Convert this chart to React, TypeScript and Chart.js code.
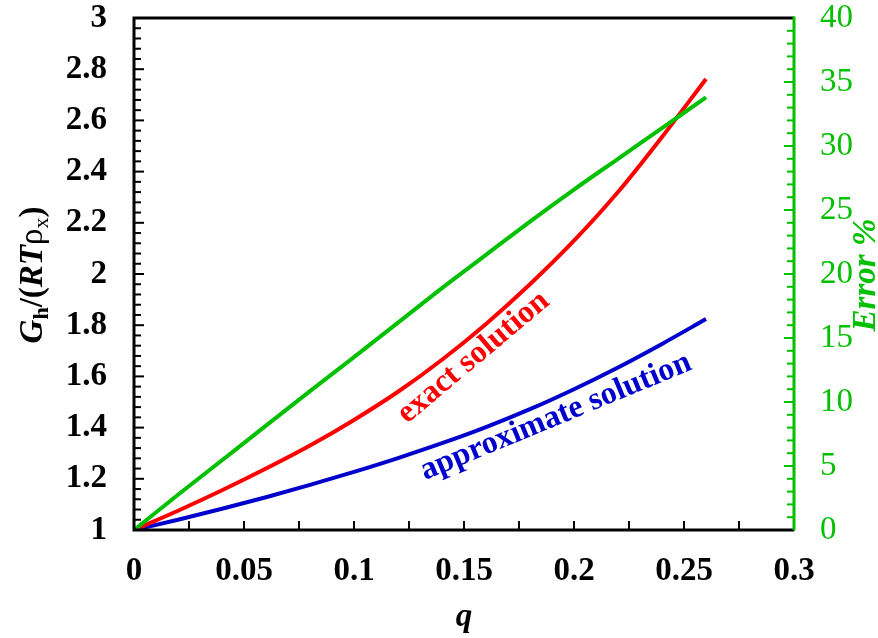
import React, { useEffect, useRef } from "react";
import { Chart, registerables } from "chart.js";

Chart.register(...registerables);

const qValues = [0, 0.02, 0.04, 0.06, 0.08, 0.1, 0.12, 0.14, 0.16, 0.18, 0.2, 0.22, 0.24, 0.26];
const exactSolution = [1, 1.075, 1.155, 1.24, 1.33, 1.43, 1.54, 1.665, 1.805, 1.96, 2.13, 2.32, 2.535, 2.762];
const approxSolution = [1, 1.04, 1.083, 1.128, 1.176, 1.227, 1.281, 1.339, 1.402, 1.472, 1.55, 1.635, 1.727, 1.824];
const errorPercent = [0, 2.75, 5.45, 8.15, 10.85, 13.5, 16.2, 18.9, 21.5, 24.1, 26.6, 29.0, 31.4, 33.8];

const RED = "#ff0000";
const BLUE = "#0000cc";
const GREEN = "#00c000";
const SERIF = "'Liberation Serif', 'Times New Roman', serif";

// annotation anchors in data units
const exactLabel = { q: 0.1241, v: 1.414, angle: -40, text: "exact solution" };
const approxLabel = { q: 0.1323, v: 1.195, angle: -22.5, text: "approximate solution" };

const fmt = (v: number) => String(Number(Number(v).toFixed(3)));

const framePlugin = {
  id: "frame",
  afterDraw(chart: any) {
    const { ctx, chartArea } = chart;
    const { left, right, top, bottom } = chartArea;
    const xs = chart.scales.x;
    const ys = chart.scales.y;
    const y2 = chart.scales.y2;
    ctx.save();
    ctx.lineCap = "square";
    // ticks
    ctx.lineWidth = 2;
    ctx.strokeStyle = "#000";
    for (let i = 0; i <= 12; i++) {
      const x = xs.getPixelForValue(i * 0.025);
      ctx.beginPath();
      ctx.moveTo(x, bottom);
      ctx.lineTo(x, bottom - 8);
      ctx.stroke();
    }
    for (let i = 0; i <= 50; i++) {
      const y = ys.getPixelForValue(1 + i * 0.04);
      const len = i % 5 === 0 ? 9 : 6;
      ctx.beginPath();
      ctx.moveTo(left, y);
      ctx.lineTo(left + len, y);
      ctx.stroke();
    }
    ctx.strokeStyle = GREEN;
    for (let i = 0; i <= 40; i++) {
      const y = y2.getPixelForValue(i);
      const len = i % 5 === 0 ? 9 : 6;
      ctx.beginPath();
      ctx.moveTo(right, y);
      ctx.lineTo(right - len, y);
      ctx.stroke();
    }
    // frame
    ctx.lineWidth = 3;
    ctx.lineCap = "butt";
    ctx.strokeStyle = "#000";
    ctx.beginPath();
    ctx.moveTo(right, top);
    ctx.lineTo(left, top);
    ctx.lineTo(left, bottom);
    ctx.lineTo(right, bottom);
    ctx.stroke();
    ctx.strokeStyle = GREEN;
    ctx.beginPath();
    ctx.moveTo(right, top - 1.5);
    ctx.lineTo(right, bottom);
    ctx.stroke();

    // in-plot labels
    const drawRot = (lab: any, color: string) => {
      const px = xs.getPixelForValue(lab.q);
      const py = ys.getPixelForValue(lab.v);
      ctx.save();
      ctx.translate(px, py);
      ctx.rotate((lab.angle * Math.PI) / 180);
      ctx.fillStyle = color;
      ctx.font = `bold 32px ${SERIF}`;
      ctx.textAlign = "left";
      ctx.textBaseline = "alphabetic";
      ctx.fillText(lab.text, 0, 0);
      ctx.restore();
    };
    drawRot(exactLabel, RED);
    drawRot(approxLabel, BLUE);

    // axis titles
    const drawRuns = (runs: any[], cx: number, cy: number, rot: number, color: string) => {
      ctx.save();
      ctx.translate(cx, cy);
      ctx.rotate(rot);
      ctx.fillStyle = color;
      ctx.textBaseline = "alphabetic";
      ctx.textAlign = "left";
      let total = 0;
      for (const r of runs) {
        ctx.font = r.font;
        total += ctx.measureText(r.t).width;
      }
      let x = -total / 2;
      for (const r of runs) {
        ctx.font = r.font;
        ctx.fillText(r.t, x, r.dy || 0);
        x += ctx.measureText(r.t).width;
      }
      ctx.restore();
    };
    drawRuns(
      [
        { t: "G", font: `italic bold 33px ${SERIF}` },
        { t: "h", font: `bold 22px ${SERIF}`, dy: 6 },
        { t: "/(", font: `bold 33px ${SERIF}` },
        { t: "RT", font: `italic bold 33px ${SERIF}` },
        { t: "ρ", font: `33px ${SERIF}` },
        { t: "x", font: `22px ${SERIF}`, dy: 6 },
        { t: ")", font: `bold 33px ${SERIF}` },
      ],
      42,
      275,
      -Math.PI / 2,
      "#000"
    );
    drawRuns([{ t: "Error %", font: `italic bold 33px ${SERIF}` }], 875, 275, -Math.PI / 2, GREEN);
    drawRuns([{ t: "q", font: `italic bold 33px ${SERIF}` }], (left + right) / 2, 626, 0, "#000");
    ctx.restore();
  },
};

export default function App() {
  const ref = useRef<HTMLCanvasElement | null>(null);
  useEffect(() => {
    if (!ref.current) return;
    const mk = (vals: number[]) => qValues.map((q, i) => ({ x: q, y: vals[i] }));
    const common = { borderWidth: 4, pointRadius: 0, cubicInterpolationMode: "monotone" };
    const chart = new Chart(ref.current, {
      type: "line",
      data: {
        datasets: [
          { label: "Error", data: mk(errorPercent), borderColor: GREEN, yAxisID: "y2", ...common },
          { label: "exact solution", data: mk(exactSolution), borderColor: RED, yAxisID: "y", ...common },
          { label: "approximate solution", data: mk(approxSolution), borderColor: BLUE, yAxisID: "y", ...common },
        ],
      },
      options: {
        responsive: false,
        animation: false,
        layout: { padding: { top: 18, left: 0, right: 0, bottom: 0 } },
        plugins: { legend: { display: false }, tooltip: { enabled: false } },
        scales: {
          x: {
            type: "linear",
            min: 0,
            max: 0.3,
            grid: { display: false, drawTicks: false },
            border: { display: false },
            ticks: { stepSize: 0.05, padding: 22, color: "#000", font: { family: SERIF, size: 33, weight: "bold" }, callback: (v: any) => fmt(v), maxRotation: 0 },
            afterFit: (s: any) => { s.height = 108; s.paddingLeft = 0; s.paddingRight = 0; },
          },
          y: {
            type: "linear",
            position: "left",
            min: 1,
            max: 3,
            grid: { display: false, drawTicks: false },
            border: { display: false },
            ticks: { stepSize: 0.2, padding: 27, color: "#000", font: { family: SERIF, size: 33, weight: "bold" }, callback: (v: any) => fmt(v) },
            afterFit: (s: any) => { s.width = 134; s.paddingTop = 0; s.paddingBottom = 0; },
          },
          y2: {
            type: "linear",
            position: "right",
            min: 0,
            max: 40,
            grid: { display: false, drawTicks: false },
            border: { display: false },
            ticks: { stepSize: 5, padding: 26, color: GREEN, font: { family: SERIF, size: 33 }, callback: (v: any) => fmt(v) },
            afterFit: (s: any) => { s.width = 84; s.paddingTop = 0; s.paddingBottom = 0; },
          },
        },
      } as any,
      plugins: [framePlugin],
    });
    return () => chart.destroy();
  }, []);
  return (
    <div style={{ position: "fixed", left: 0, top: 0, width: 878, height: 638, background: "#fff" }}>
      <canvas ref={ref} width={878} height={638} style={{ display: "block" }} />
    </div>
  );
}
